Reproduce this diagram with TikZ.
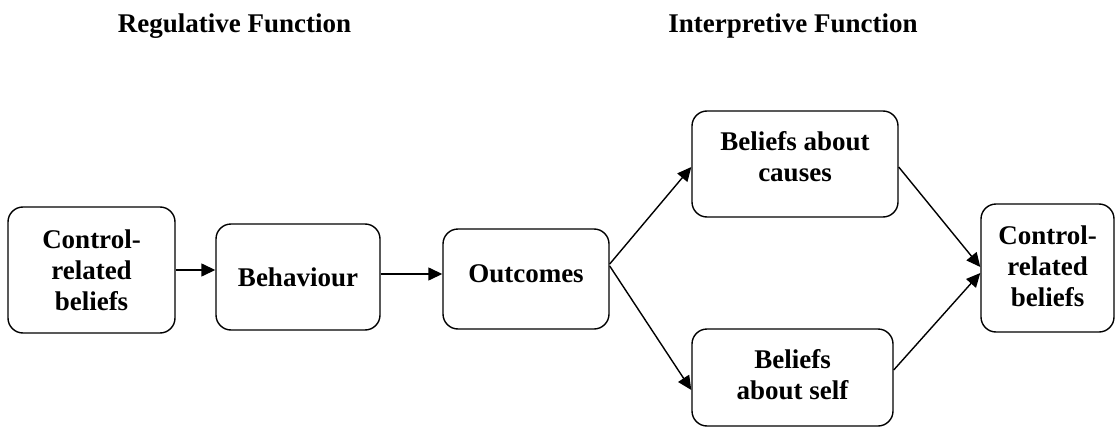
\documentclass[tikz,border=0pt]{standalone}
\usepackage{fontspec}
\setmainfont{Liberation Serif}
\usetikzlibrary{arrows.meta}
\begin{document}
\begin{tikzpicture}[x=1pt,y=-1pt,
  box/.style={draw, line width=1.4pt, rounded corners=15pt, align=center,
    inner sep=0pt, font=\bfseries\fontsize{27}{31}\selectfont},
  heading/.style={font=\bfseries\fontsize{27}{31}\selectfont, anchor=base},
  link/.style={line width=1.4pt, -{Triangle[length=14pt,width=13pt]}}]
\useasboundingbox (0,0) rectangle (1116,428);

% section headings
\node[heading] (reg) at (234.5,33) {Regulative Function};
\node[heading] (int) at (793,33) {Interpretive Function};

% regulative chain
\node[box, minimum width=167pt, minimum height=126pt] (L) at (91.5,270)
  {Control-\\related\\beliefs};
\node[box, minimum width=164pt, minimum height=106pt] (B) at (298,277)
  {Behaviour};
\node[box, minimum width=166pt, minimum height=100pt] (O) at (526,279)
  {Outcomes\rule[-10pt]{0pt}{0pt}};

% interpretive branch
\node[box, minimum width=206pt, minimum height=106pt] (C) at (795,164)
  {Beliefs about\\causes\rule[-16pt]{0pt}{0pt}};
\node[box, minimum width=201pt, minimum height=97pt] (S) at (792.5,377.5)
  {Beliefs\\about self\rule[-7pt]{0pt}{0pt}};
\node[box, minimum width=133pt, minimum height=128pt] (R) at (1047.5,268)
  {Control-\\related\\beliefs\rule[-4pt]{0pt}{0pt}};

% connectors
\draw[link] (L.east) -- (B.west |- L.east);
\draw[link] ([yshift=3pt]B.east) -- ([yshift=3pt]B.east -| O.west);
\draw[link] ([yshift=15pt]O.east) -- ([yshift=-3pt]C.west);
\draw[link] ([yshift=13pt]O.east) -- ([yshift=-12.5pt]S.west);
\draw[link] ([yshift=-3pt]C.east) -- ([yshift=1pt]R.west);
\draw[link] ([yshift=7.5pt]S.east) -- ([yshift=-5pt]R.west);
\end{tikzpicture}
\end{document}
